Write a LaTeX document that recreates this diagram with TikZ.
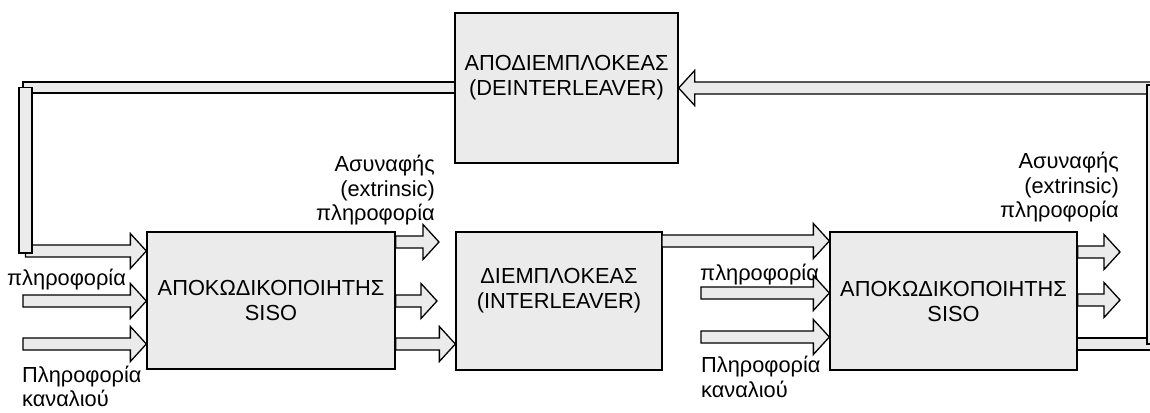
\documentclass[tikz,border=0pt]{standalone}
\usepackage{fontspec}
\setmainfont{Liberation Sans}
\usetikzlibrary{calc}
\definecolor{boxgray}{HTML}{EBEBEB}
\tikzset{
  block/.style={draw=black, line width=1.3pt, fill=boxgray, inner sep=0pt,
    align=center, font=\fontsize{21.8}{25}\selectfont},
  blockarrow/.style={draw=black, line width=1.3pt, fill=boxgray, line join=miter},
  lbl/.style={inner sep=0pt, font=\fontsize{21.8}{24.5}\selectfont},
}
% shaft half-thickness, head half-height, head length
\def\bsh{6pt}\def\bhw{17.5pt}\def\bhl{16pt}
% block arrow pointing right, from #1 to the x of #2 (at the height of #1)
\newcommand{\rarrow}[2]{%
  \draw[blockarrow] let \p1=(#1), \p2=(#2) in
    (\x1,\y1+\bsh) -- (\x2-\bhl,\y1+\bsh) -- (\x2-\bhl,\y1+\bhw) -- (\x2,\y1)
    -- (\x2-\bhl,\y1-\bhw) -- (\x2-\bhl,\y1-\bsh) -- (\x1,\y1-\bsh) -- cycle;}
% block arrow pointing left
\newcommand{\larrow}[2]{%
  \draw[blockarrow] let \p1=(#1), \p2=(#2) in
    (\x1,\y1+\bsh) -- (\x2+\bhl,\y1+\bsh) -- (\x2+\bhl,\y1+\bhw) -- (\x2,\y1)
    -- (\x2+\bhl,\y1-\bhw) -- (\x2+\bhl,\y1-\bsh) -- (\x1,\y1-\bsh) -- cycle;}
\begin{document}
\begin{tikzpicture}[x=1pt,y=-1pt]
\useasboundingbox (0,0) rectangle (1150,412);

% processing blocks
\node[block, minimum width=223pt, minimum height=150pt] (deint) at (566.5,88)
  {ΑΠΟΔΙΕΜΠΛΟΚΕΑΣ\\(DEINTERLEAVER)\\~};
\node[block, minimum width=248pt, minimum height=137pt] (siso1) at (271,300.5)
  {ΑΠΟΚΩΔΙΚΟΠΟΙΗΤΗΣ\\SISO};
\node[block, minimum width=206pt, minimum height=138pt] (int) at (559,301)
  {ΔΙΕΜΠΛΟΚΕΑΣ\\(INTERLEAVER)\\~};
\node[block, minimum width=247pt, minimum height=138pt] (siso2) at (953.5,301)
  {ΑΠΟΚΩΔΙΚΟΠΟΙΗΤΗΣ\\SISO};

% free ends of the connectors
\coordinate (lc1) at (25.5,87.5);
\coordinate (lc2) at (25.5,251);
\coordinate (in2) at (23,301);
\coordinate (in3) at (23,344);
\coordinate (o1) at (439,242);
\coordinate (o2) at (437,301);
\coordinate (m1) at (662,241);
\coordinate (rin2) at (701,293);
\coordinate (rin3) at (701,337);
\coordinate (ro1) at (1120,252);
\coordinate (ro2) at (1120,300);
\coordinate (rc1) at (1153,344);
\coordinate (rc2) at (1153,88);

% feedback path on the left: deinterleaver -> first decoder
\draw[blockarrow] let \p1=(lc1), \p2=(deint.west) in
  (\x1-2.5pt,\y1+5.5pt) rectangle (\x2,\y1-5.5pt);
\rarrow{lc2}{siso1.west}
\draw[blockarrow] let \p1=(lc1), \p2=(lc2) in
  (\x1-6.5pt,\y1) rectangle (\x1+6.5pt,\y2-2pt);

% inputs of the first decoder
\rarrow{in2}{siso1.west}
\rarrow{in3}{siso1.west}

% outputs of the first decoder
\rarrow{siso1.east|-o1}{o1}
\rarrow{siso1.east|-o2}{o2}
\rarrow{siso1.east|-in3}{int.west}

% interleaver -> second decoder, and its inputs
\rarrow{m1}{siso2.west}
\rarrow{rin2}{siso2.west}
\rarrow{rin3}{siso2.west}

% outputs of the second decoder
\rarrow{siso2.east|-ro1}{ro1}
\rarrow{siso2.east|-ro2}{ro2}

% feedback path on the right: second decoder -> deinterleaver
\draw[blockarrow] let \p1=(siso2.east|-rc1), \p2=(rc1) in
  (\x1,\y1+6pt) rectangle (\x2+12pt,\y1-6pt);
\larrow{[xshift=12pt]rc2}{deint.east|-rc2}
\draw[blockarrow] let \p1=(rc2), \p2=(rc1) in
  (\x1-6pt,\y1+3pt) rectangle (\x1+6pt,\y2);

% labels
\node[lbl, align=right, anchor=north east] (ext1) at (435,155)
  {Ασυναφής\\(extrinsic)\\πληροφορία};
\node[lbl, align=right, anchor=north east] (ext2) at (1119,152)
  {Ασυναφής\\(extrinsic)\\πληροφορία};
\node[lbl, anchor=base west] (inf1) at (7,285.5) {πληροφορία};
\node[lbl, anchor=base west] (inf2) at (700,280) {πληροφορία};
\node[lbl, align=left, anchor=north west, font=\fontsize{21.8}{23.5}\selectfont]
  (ch1) at (22,366) {Πληροφορία\\καναλιού};
\node[lbl, align=left, anchor=north west] (ch2) at (701,356) {Πληροφορία\\καναλιού};
\end{tikzpicture}
\end{document}
